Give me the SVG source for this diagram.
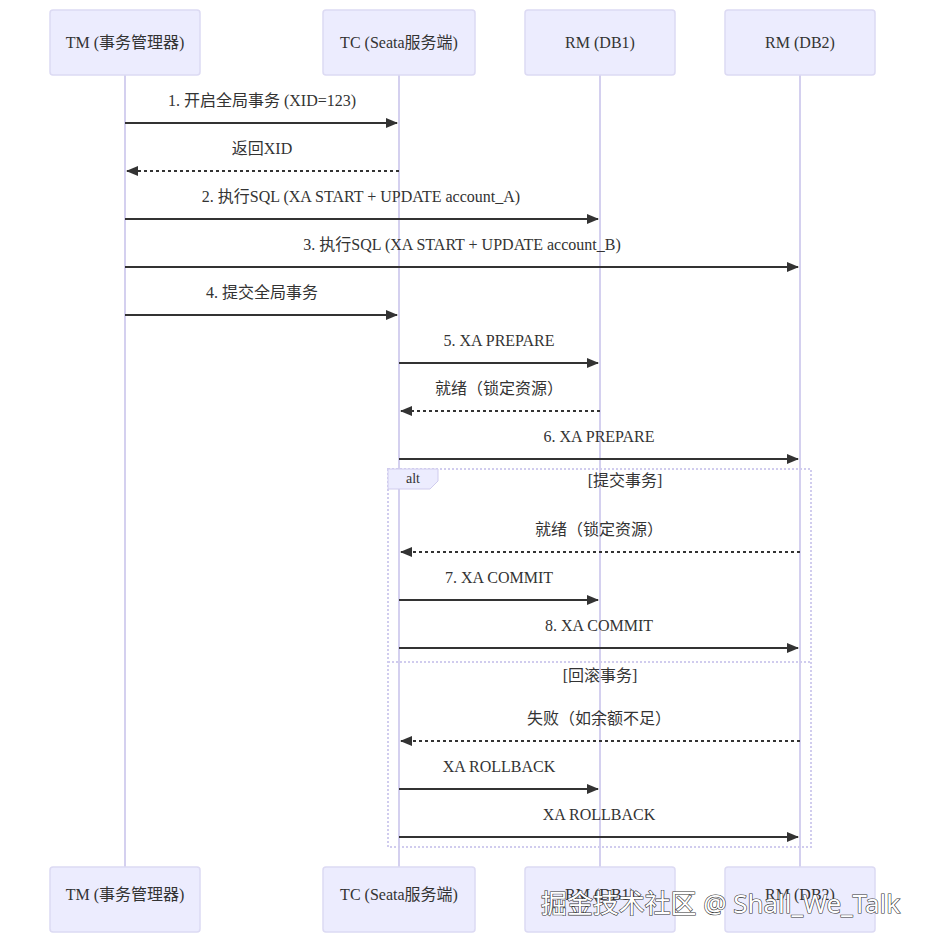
<svg xmlns="http://www.w3.org/2000/svg" width="925" height="943" viewBox="0 0 925 943">
<style>
.actor{fill:#ececfe;stroke:#dcdaf3;stroke-width:1.5}
.atext{font-family:"Liberation Serif","Noto Sans CJK SC",serif;font-size:16px;fill:#333;text-anchor:middle}
.life{stroke:#d4d0ef;stroke-width:2}
.msg{stroke:#333;stroke-width:2;fill:none}
.dash{stroke-dasharray:3,3}
.mtext{font-family:"Liberation Serif","Noto Sans CJK SC",serif;font-size:16px;fill:#333;text-anchor:middle}
.loop{fill:none;stroke:#d0ccee;stroke-width:2;stroke-dasharray:2,2}
.wm{font-family:"Noto Sans","Noto Sans CJK SC",sans-serif;font-size:26px;fill:#fff;stroke:#333;stroke-width:1.2;paint-order:stroke}
</style>
<defs>
<marker id="arr" viewBox="0 0 12 10" refX="11" refY="5" markerWidth="12" markerHeight="10" markerUnits="userSpaceOnUse" orient="auto">
<path d="M0,0 L12,5 L0,10 z" fill="#333"/>
</marker>
</defs>
<rect width="925" height="943" fill="#fff"/>
<g id="lifelines">
<line class="life" x1="125" y1="75" x2="125" y2="867"/>
<line class="life" x1="399" y1="75" x2="399" y2="867"/>
<line class="life" x1="600" y1="75" x2="600" y2="867"/>
<line class="life" x1="800" y1="75" x2="800" y2="867"/>
</g>
<g id="actor-TM">
<rect class="actor" x="50" y="10" width="150" height="65" rx="3"/>
<text class="atext" x="125" y="48">TM (事务管理器)</text>
<rect class="actor" x="50" y="867" width="150" height="65" rx="3"/>
<text class="atext" x="125" y="900">TM (事务管理器)</text>
</g>
<g id="actor-TC">
<rect class="actor" x="323" y="10" width="152" height="65" rx="3"/>
<text class="atext" x="399" y="48">TC (Seata服务端)</text>
<rect class="actor" x="323" y="867" width="152" height="65" rx="3"/>
<text class="atext" x="399" y="900">TC (Seata服务端)</text>
</g>
<g id="actor-RM1">
<rect class="actor" x="525" y="10" width="150" height="65" rx="3"/>
<text class="atext" x="600" y="48">RM (DB1)</text>
<rect class="actor" x="525" y="867" width="150" height="65" rx="3"/>
<text class="atext" x="600" y="900">RM (DB1)</text>
</g>
<g id="actor-RM2">
<rect class="actor" x="725" y="10" width="150" height="65" rx="3"/>
<text class="atext" x="800" y="48">RM (DB2)</text>
<rect class="actor" x="725" y="867" width="150" height="65" rx="3"/>
<text class="atext" x="800" y="900">RM (DB2)</text>
</g>
<g id="alt">
<rect class="loop" x="388" y="469" width="423" height="378"/>
<line class="loop" x1="388" y1="662" x2="811" y2="662"/>
<path d="M388,469 H438 V481 L430,489 H388 Z" fill="#ececfe" stroke="#d0ccee" stroke-width="1"/>
<text class="mtext" x="413" y="483" style="font-size:14px">alt</text>
<text class="mtext" x="625" y="486">[提交事务]</text>
<text class="mtext" x="600" y="681">[回滚事务]</text>
</g>
<g id="connectors">
<line class="msg" x1="125" y1="123" x2="397" y2="123" marker-end="url(#arr)"/>
<text class="mtext" x="262" y="106">1. 开启全局事务 (XID=123)</text>
<line class="msg dash" x1="399" y1="171" x2="127" y2="171" marker-end="url(#arr)"/>
<text class="mtext" x="262" y="154">返回XID</text>
<line class="msg" x1="125" y1="219" x2="598" y2="219" marker-end="url(#arr)"/>
<text class="mtext" x="361" y="202">2. 执行SQL (XA START + UPDATE account_A)</text>
<line class="msg" x1="125" y1="267" x2="798" y2="267" marker-end="url(#arr)"/>
<text class="mtext" x="462" y="250">3. 执行SQL (XA START + UPDATE account_B)</text>
<line class="msg" x1="125" y1="315" x2="397" y2="315" marker-end="url(#arr)"/>
<text class="mtext" x="262" y="298">4. 提交全局事务</text>
<line class="msg" x1="399" y1="363" x2="598" y2="363" marker-end="url(#arr)"/>
<text class="mtext" x="499" y="346">5. XA PREPARE</text>
<line class="msg dash" x1="600" y1="411" x2="401" y2="411" marker-end="url(#arr)"/>
<text class="mtext" x="499" y="394">就绪（锁定资源）</text>
<line class="msg" x1="399" y1="459" x2="798" y2="459" marker-end="url(#arr)"/>
<text class="mtext" x="599" y="442">6. XA PREPARE</text>
<line class="msg dash" x1="800" y1="552" x2="401" y2="552" marker-end="url(#arr)"/>
<text class="mtext" x="599" y="535">就绪（锁定资源）</text>
<line class="msg" x1="399" y1="600" x2="598" y2="600" marker-end="url(#arr)"/>
<text class="mtext" x="499" y="583">7. XA COMMIT</text>
<line class="msg" x1="399" y1="648" x2="798" y2="648" marker-end="url(#arr)"/>
<text class="mtext" x="599" y="631">8. XA COMMIT</text>
<line class="msg dash" x1="800" y1="741" x2="401" y2="741" marker-end="url(#arr)"/>
<text class="mtext" x="599" y="724">失败（如余额不足）</text>
<line class="msg" x1="399" y1="789" x2="598" y2="789" marker-end="url(#arr)"/>
<text class="mtext" x="499" y="772">XA ROLLBACK</text>
<line class="msg" x1="399" y1="837" x2="798" y2="837" marker-end="url(#arr)"/>
<text class="mtext" x="599" y="820">XA ROLLBACK</text>
</g>
<text class="wm" x="541" y="913" textLength="359" lengthAdjust="spacingAndGlyphs">掘金技术社区 @ Shall_We_Talk</text>
</svg>
